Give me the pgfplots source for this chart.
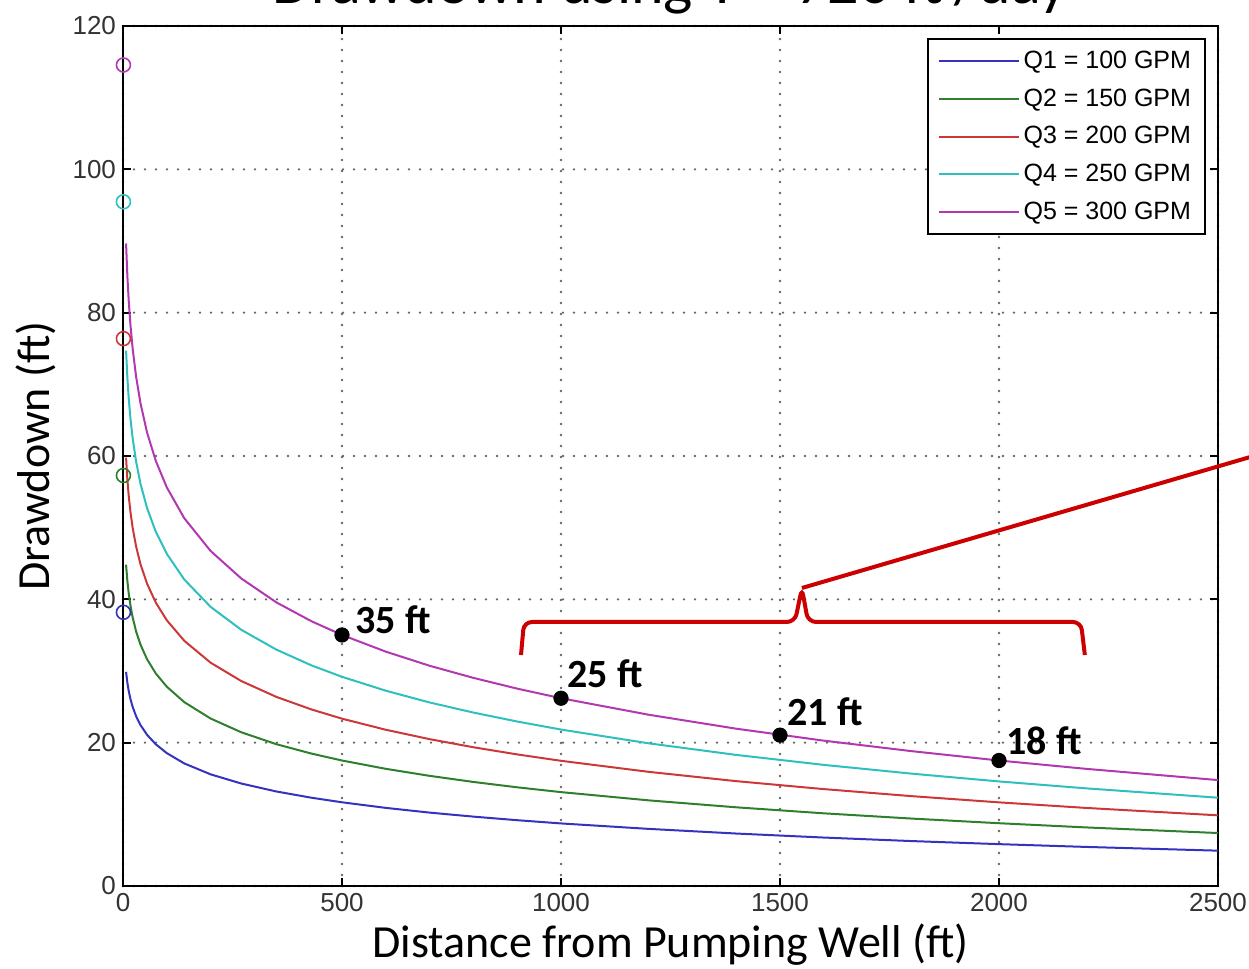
\documentclass[border=0pt]{standalone}
\usepackage{fontspec}
\setmainfont{Carlito}
\newfontfamily\helv{Liberation Sans}
\usepackage{pgfplots}
\pgfplotsset{compat=1.18}
\usepackage{pgfplotstable}

\definecolor{qone}{rgb}{0.20,0.20,0.75}
\definecolor{qtwo}{rgb}{0.18,0.50,0.18}
\definecolor{qthree}{rgb}{0.80,0.22,0.22}
\definecolor{qfour}{rgb}{0.18,0.75,0.75}
\definecolor{qfive}{rgb}{0.70,0.22,0.70}
\definecolor{annot}{rgb}{0.80,0.00,0.00}

% drawdown (ft) against distance r (ft), one column per pumping rate
\pgfplotstableread{
r    s1    s2    s3    s4    s5
7    29.88 44.83 59.77 74.71 89.65
10   28.36 42.54 56.73 70.91 85.09
13   27.24 40.86 54.49 68.11 81.73
17   26.10 39.15 52.20 65.25 78.30
22   25.00 37.50 50.00 62.50 75.00
30   23.68 35.51 47.35 59.19 71.03
40   22.45 33.67 44.89 56.12 67.34
55   21.09 31.63 42.18 52.72 63.26
75   19.77 29.65 39.53 49.41 59.30
100  18.54 27.81 37.08 46.35 55.62
140  17.10 25.65 34.21 42.76 51.31
200  15.58 23.37 31.16 38.95 46.75
270  14.30 21.45 28.60 35.75 42.91
350  13.19 19.79 26.39 32.99 39.58
430  12.32 18.48 24.64 30.79 36.95
500  11.68 17.51 23.35 29.19 35.03
600  10.90 16.35 21.80 27.25 32.70
700  10.24 15.37 20.49 25.61 30.73
800  9.68  14.52 19.36 24.20 29.04
900  9.18  13.77 18.36 22.95 27.54
1000 8.73  13.10 17.47 21.83 26.20
1200 7.97  11.95 15.93 19.91 23.90
1400 7.32  10.98 14.63 18.29 21.95
1600 6.76  10.14 13.52 16.90 20.28
1800 6.27  9.41  12.54 15.68 18.82
2000 5.84  8.76  11.67 14.59 17.51
2200 5.45  8.17  10.89 13.62 16.34
2500 4.93  7.39  9.86  12.32 14.78
}\drawdown

% drawdown at the well face
\pgfplotstableread{
r s1    s2    s3    s4    s5
1 38.19 57.28 76.38 95.47 114.56
}\wellface

\begin{document}
\begin{tikzpicture}
\begin{axis}[
    at={(0,0)}, anchor=south west,
    scale only axis,
    width=547.5pt, height=430pt,
    xmin=0, xmax=2500, ymin=0, ymax=120,
    xtick={0,500,...,2500},
    ytick={0,20,...,120},
    tick align=inside,
    xtick pos=both, ytick pos=both,
    major tick length=4pt,
    every tick/.style={black, line width=1pt},
    axis line style={line width=1pt},
    grid=major,
    major grid style={black!60, line width=1.3pt, line cap=round, dash pattern=on 0pt off 5.5pt},
    /pgf/number format/assume math mode=true,
    /pgf/number format/set thousands separator={},
    ticklabel style={font=\helv\fontsize{13}{13}\selectfont, text=black!80},
    xlabel={Distance from Pumping Well (ft)},
    ylabel={Drawdown (ft)},
    xlabel style={at={(axis description cs:0.5,-0.0837)}, anchor=base, font=\fontsize{23}{23}\selectfont},
    ylabel style={at={(axis description cs:-0.0667,0.5)}, anchor=base, font=\fontsize{23}{23}\selectfont},
    clip=false,
    legend cell align=left,
    legend style={
        at={(axis description cs:0.98904,0.98605)}, anchor=north east,
        draw=black, line width=1pt,
        font=\helv\fontsize{12.5}{12.5}\selectfont,
        inner xsep=5pt, inner ysep=4pt, row sep=4.6pt
    },
    legend image code/.code={\draw[#1, line width=1pt] (0pt,0pt) -- (40pt,0pt);},
]
    \addplot[qone, line width=1pt] table[x=r, y=s1] {\drawdown};
    \addplot[qtwo, line width=1pt] table[x=r, y=s2] {\drawdown};
    \addplot[qthree, line width=1pt] table[x=r, y=s3] {\drawdown};
    \addplot[qfour, line width=1pt] table[x=r, y=s4] {\drawdown};
    \addplot[qfive, line width=1pt] table[x=r, y=s5] {\drawdown};
    \legend{Q1 = 100 GPM, Q2 = 150 GPM, Q3 = 200 GPM, Q4 = 250 GPM, Q5 = 300 GPM}

    \addplot[qone, only marks, mark=o, mark size=3.5pt, line width=0.8pt, forget plot] table[x=r, y=s1] {\wellface};
    \addplot[qtwo, only marks, mark=o, mark size=3.5pt, line width=0.8pt, forget plot] table[x=r, y=s2] {\wellface};
    \addplot[qthree, only marks, mark=o, mark size=3.5pt, line width=0.8pt, forget plot] table[x=r, y=s3] {\wellface};
    \addplot[qfour, only marks, mark=o, mark size=3.5pt, line width=0.8pt, forget plot] table[x=r, y=s4] {\wellface};
    \addplot[qfive, only marks, mark=o, mark size=3.5pt, line width=0.8pt, forget plot] table[x=r, y=s5] {\wellface};

    % highlighted points on the Q5 curve
    \addplot[black, only marks, mark=*, mark size=3.6pt, forget plot]
        coordinates {(500,35.03) (1000,26.20) (1500,21.05) (2000,17.51)};

    \node[anchor=base west, inner sep=0pt, font=\bfseries\fontsize{20}{20}\selectfont] at (axis cs:529.7,35.3) {35 ft};
    \node[anchor=base west, inner sep=0pt, font=\bfseries\fontsize{20}{20}\selectfont] at (axis cs:1013.7,27.63) {25 ft};
    \node[anchor=base west, inner sep=0pt, font=\bfseries\fontsize{20}{20}\selectfont] at (axis cs:1516,22.33) {21 ft};
    \node[anchor=base west, inner sep=0pt, font=\bfseries\fontsize{20}{20}\selectfont] at (axis cs:2016,18.28) {18 ft};

    % red brace and pointer
    \draw[annot, line width=2pt, rounded corners=4pt]
        (axis cs:908.7,32.23) -- (axis cs:915.5,36.84) -- (axis cs:1534,36.84)
        -- (axis cs:1550,41.58) -- (axis cs:1564,36.84) -- (axis cs:2187,36.84)
        -- (axis cs:2196,32.23);
    \draw[annot, line width=2pt] (axis cs:1550,41.58) -- (axis cs:2619,60.67);

    % title, cut by the top edge as in the source image
    \node[anchor=base, font=\fontsize{31}{31}\selectfont] at (axis description cs:0.5,1.0256)
        {Drawdown using T = 720 ft²/day};
\end{axis}
\pgfresetboundingbox
\useasboundingbox (-61.5pt,-41.5pt) rectangle (563pt,443pt);
\end{tikzpicture}
\end{document}
